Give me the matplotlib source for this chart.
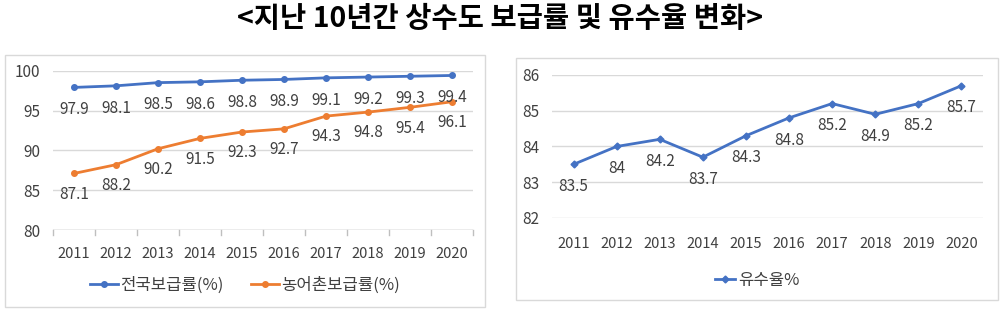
import matplotlib
matplotlib.use("Agg")
from matplotlib import pyplot as plt
from matplotlib.patches import Rectangle

plt.rcParams['font.family'] = ['Noto Sans CJK KR', 'DejaVu Sans']

# data
years = ["2011", "2012", "2013", "2014", "2015", "2016", "2017", "2018", "2019", "2020"]
national = [97.9, 98.1, 98.5, 98.6, 98.8, 98.9, 99.1, 99.2, 99.3, 99.4]
rural = [87.1, 88.2, 90.2, 91.5, 92.3, 92.7, 94.3, 94.8, 95.4, 96.1]
revenue = [83.5, 84.0, 84.2, 83.7, 84.3, 84.8, 85.2, 84.9, 85.2, 85.7]
revenue_labels = ["83.5", "84", "84.2", "83.7", "84.3", "84.8", "85.2", "84.9", "85.2", "85.7"]

BLUE = "#4472C4"
ORANGE = "#ED7D31"
GRID = "#d9d9d9"
TXT = "#404040"


def style_axes(ax, lo, hi, step, xpad):
    ax.set_xlim(-0.5, len(years) - 0.5)
    ax.set_ylim(lo, hi)
    ax.set_yticks(range(lo, hi + 1, step))
    ax.set_xticks(range(len(years)))
    ax.set_xticklabels(years)
    ax.grid(axis="y", color=GRID, linewidth=1)
    ax.set_axisbelow(True)
    for s in ["top", "right", "left", "bottom"]:
        ax.spines[s].set_visible(False)
    ax.tick_params(axis="y", length=0, pad=9, labelsize=11, labelcolor=TXT)
    ax.tick_params(axis="x", length=0, pad=xpad, labelsize=10.5, labelcolor=TXT)


def label_points(ax, vals, texts, off=-16):
    for i, (v, t) in enumerate(zip(vals, texts)):
        ax.annotate(t, (i, v), xytext=(0, off), textcoords="offset points",
                    ha="center", va="center", fontsize=11, color=TXT)


fig = plt.figure(figsize=(10, 3.15), dpi=100)

# panel frames
fig.add_artist(Rectangle((0.005, 0.025), 0.48, 0.80, transform=fig.transFigure,
                         fill=False, edgecolor=GRID, linewidth=1))
fig.add_artist(Rectangle((0.516, 0.048), 0.482, 0.768, transform=fig.transFigure,
                         fill=False, edgecolor=GRID, linewidth=1))

fig.text(0.5, 0.94, "<지난 10년간 상수도 보급률 및 유수율 변화>", ha="center", va="center",
         fontsize=20.5, fontweight="bold", color="black")

# left: supply rates
ax1 = fig.add_axes([0.053, 0.2698, 0.42, 0.5058])
style_axes(ax1, 80, 100, 5, 12)
ax1.axhline(80, color="#bfbfbf", linewidth=1)
for b in range(len(years) + 1):
    ax1.plot([b - 0.5, b - 0.5], [80, 79.4], color="#bfbfbf", linewidth=1, clip_on=False)
x = range(len(years))
ax1.plot(x, national, color=BLUE, linewidth=2, marker="o", markersize=4, label="전국보급률(%)")
ax1.plot(x, rural, color=ORANGE, linewidth=2, marker="o", markersize=4, label="농어촌보급률(%)")
label_points(ax1, national, [f"{v:.1f}" for v in national])
label_points(ax1, rural, [f"{v:.1f}" for v in rural], off=-15)
ax1.legend(loc="center", bbox_to_anchor=(0.457, -0.345), ncol=2, frameon=False,
           fontsize=12, handlelength=1.7, handletextpad=0.15, columnspacing=1.6,
           labelcolor=TXT)

# right: revenue water ratio
ax2 = fig.add_axes([0.552, 0.308, 0.431, 0.454])
style_axes(ax2, 82, 86, 1, 14)
ax2.plot(x, revenue, color=BLUE, linewidth=2, marker="D", markersize=3.5, label="유수율%")
label_points(ax2, revenue, revenue_labels)
ax2.legend(loc="center", bbox_to_anchor=(0.476, -0.434), frameon=False,
           fontsize=12, handlelength=1.2, handletextpad=0.15, labelcolor=TXT)

fig.savefig("out.png", dpi=100)
